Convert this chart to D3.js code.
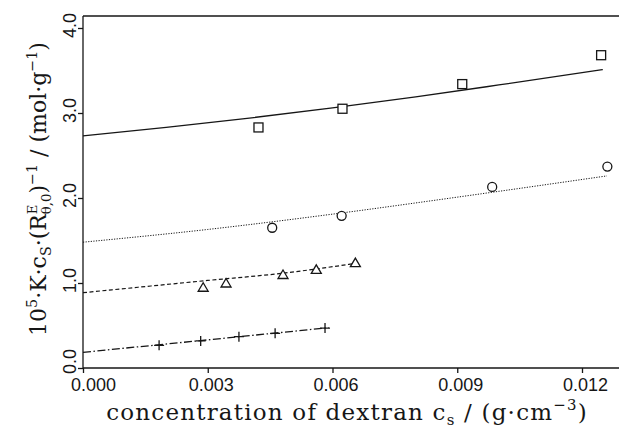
<!DOCTYPE html>
<html>
<head>
<meta charset="utf-8">
<script src="https://cdn.jsdelivr.net/npm/d3@7"></script>
<style>
  html, body { margin: 0; padding: 0; background: #fff; }
  svg { display: block; }
</style>
</head>
<body>
<svg id="chart" width="619" height="430"></svg>
<script>
// Tick values and labels
const xTickValues = [0, 0.003, 0.006, 0.009, 0.012];
const xTickLabels = ["0.000", "0.003", "0.006", "0.009", "0.012"];
const yTickValues = [0, 1, 2, 3, 4];
const yTickLabels = ["0.0", "1.0", "2.0", "3.0", "4.0"];

// Measured points: concentration c_s (g/cm^3) and 10^5 K c_s / R
const squareX = [0.00422, 0.00624, 0.00912, 0.01246];
const squareY = [2.83, 3.05, 3.34, 3.68];
const circleX = [0.00455, 0.00622, 0.00984, 0.01261];
const circleY = [1.65, 1.79, 2.13, 2.37];
const triangleX = [0.00289, 0.00344, 0.00481, 0.00561, 0.00655];
const triangleY = [0.95, 1.00, 1.10, 1.16, 1.24];
const plusX = [0.00183, 0.00283, 0.00375, 0.00462, 0.00582];
const plusY = [0.267, 0.318, 0.368, 0.408, 0.470];

// Fitted curves through each series
const fitSolidX = [0, 0.002, 0.004, 0.006, 0.008, 0.010, 0.0125];
const fitSolidY = [2.73, 2.83, 2.94, 3.06, 3.19, 3.33, 3.51];
const fitDottedX = [0, 0.003, 0.006, 0.009, 0.0126];
const fitDottedY = [1.48, 1.63, 1.81, 2.01, 2.26];
const fitDashedX = [0, 0.003, 0.0048, 0.00655];
const fitDashedY = [0.886, 1.03, 1.115, 1.23];
const fitDashDotX = [0, 0.00591];
const fitDashDotY = [0.184, 0.474];

(function () {
const svg = d3.select("#chart");
const ink = "#161616";

const x = d3.scaleLinear().domain([0, 0.012]).range([83, 582]);
const y = d3.scaleLinear().domain([0, 4]).range([368, 28]);
const plotLeft = x(0), plotBottom = y(0), plotTop = 16, plotRight = 619;

// Frame: left, top and bottom rules (open on the right)
const frame = svg.append("g").attr("stroke", ink).attr("stroke-width", 1.3).attr("fill", "none");
frame.append("line").attr("x1", plotLeft).attr("x2", plotLeft).attr("y1", plotTop).attr("y2", plotBottom);
frame.append("line").attr("x1", plotLeft).attr("x2", plotRight).attr("y1", plotTop).attr("y2", plotTop);
frame.append("line").attr("x1", plotLeft).attr("x2", plotRight).attr("y1", plotBottom).attr("y2", plotBottom);

const tickFont = "'Liberation Sans', Arial, sans-serif";

// Bottom axis
const xAxis = svg.append("g")
  .attr("transform", `translate(0,${plotBottom})`)
  .call(d3.axisBottom(x).tickValues(xTickValues)
    .tickFormat((d, i) => xTickLabels[i]).tickSize(5).tickSizeOuter(0));
xAxis.select(".domain").remove();
xAxis.selectAll(".tick line").attr("stroke", ink).attr("stroke-width", 1.3);
xAxis.selectAll(".tick text")
  .attr("fill", ink)
  .style("font-family", tickFont)
  .style("font-size", "18px")
  .attr("dy", null)
  .attr("y", 23)
  .attr("x", (d, i) => i === 0 ? 10 : 3);

// Left axis with rotated labels
const yAxis = svg.append("g")
  .attr("transform", `translate(${plotLeft},0)`)
  .call(d3.axisLeft(y).tickValues(yTickValues)
    .tickFormat((d, i) => yTickLabels[i]).tickSize(5).tickSizeOuter(0));
yAxis.select(".domain").remove();
yAxis.selectAll(".tick line").attr("stroke", ink).attr("stroke-width", 1.3);
yAxis.selectAll(".tick text")
  .attr("fill", ink)
  .style("font-family", tickFont)
  .style("font-size", "18px")
  .attr("x", null).attr("dy", null)
  .attr("text-anchor", "middle")
  .attr("transform", (d, i) => `translate(-7,${i === 0 ? -7 : -3}) rotate(-90)`);

// Fitted curves
const line = d3.line().x(d => x(d[0])).y(d => y(d[1])).curve(d3.curveMonotoneX);
const zip = (a, b) => a.map((v, i) => [v, b[i]]);
const curves = [
  { pts: zip(fitSolidX, fitSolidY), dash: null, w: 1.3 },
  { pts: zip(fitDottedX, fitDottedY), dash: "1.2,1.4", w: 1.0 },
  { pts: zip(fitDashedX, fitDashedY), dash: "4,2.5", w: 1.2 },
  { pts: zip(fitDashDotX, fitDashDotY), dash: "8,2.5,1.5,2.5", w: 1.3 }
];
svg.append("g").selectAll("path").data(curves).join("path")
  .attr("d", d => line(d.pts))
  .attr("fill", "none")
  .attr("stroke", ink)
  .attr("stroke-width", d => d.w)
  .attr("stroke-dasharray", d => d.dash);

// Markers
const marks = svg.append("g").attr("fill", "none").attr("stroke", ink).attr("stroke-width", 1.3);
const s = 9;
marks.selectAll("rect").data(zip(squareX, squareY)).join("rect")
  .attr("x", d => x(d[0]) - s / 2).attr("y", d => y(d[1]) - s / 2)
  .attr("width", s).attr("height", s).attr("fill", "#fff");
marks.selectAll("circle").data(zip(circleX, circleY)).join("circle")
  .attr("cx", d => x(d[0])).attr("cy", d => y(d[1])).attr("r", 4.5).attr("fill", "#fff");
marks.selectAll("path.tri").data(zip(triangleX, triangleY)).join("path")
  .attr("class", "tri").attr("fill", "#fff")
  .attr("d", d => {
    const cx = x(d[0]), cy = y(d[1]);
    return `M${cx},${cy - 4.5}L${cx + 5},${cy + 4}L${cx - 5},${cy + 4}Z`;
  });
marks.selectAll("path.plus").data(zip(plusX, plusY)).join("path")
  .attr("class", "plus")
  .attr("d", d => {
    const cx = x(d[0]), cy = y(d[1]);
    return `M${cx - 5},${cy}H${cx + 5}M${cx},${cy - 5}V${cy + 5}`;
  });

// Axis titles with sub/superscripts
const titleFont = "'DejaVu Serif', serif";
function richText(g, parts, size, spacing) {
  const t = g.append("text")
    .attr("text-anchor", "middle")
    .attr("fill", ink)
    .style("font-family", titleFont)
    .style("font-size", size + "px")
    .style("letter-spacing", (spacing || 0) + "px");
  let cur = 0;
  parts.forEach(p => {
    const shift = p.shift || 0;
    const ts = t.append("tspan").text(p.t)
      .attr("dy", shift - cur)
      .style("font-size", (p.scale ? size * p.scale : size) + "px");
    if (p.back) ts.attr("dx", -p.back());
    p.node = ts.node();
    cur = shift;
  });
  return t;
}

richText(svg.append("g").attr("transform", "translate(347,420)"), [
  { t: "concentration of dextran c" },
  { t: "s", shift: 5, scale: 0.65 },
  { t: " / (g\u00b7cm" },
  { t: "\u22123", shift: -10, scale: 0.65 },
  { t: ")" }
], 23, 1.2);

const yParts = [
  { t: "10" },
  { t: "5", shift: -9, scale: 0.65 },
  { t: "\u00b7K\u00b7c" },
  { t: "S", shift: 5, scale: 0.65 },
  { t: "\u00b7(R" },
  { t: "E", shift: -9, scale: 0.6 }
];
yParts.push({ t: "\u03b8,0", shift: 5, scale: 0.6, back: () => yParts[5].node.getComputedTextLength() });
yParts.push({ t: ")" });
yParts.push({ t: "\u22121", shift: -9, scale: 0.65 });
yParts.push({ t: " / (mol\u00b7g" });
yParts.push({ t: "\u22121", shift: -9, scale: 0.65 });
yParts.push({ t: ")" });
richText(svg.append("g").attr("transform", "translate(46,189) rotate(-90)"), yParts, 22, 0);
})();
</script>
</body>
</html>
